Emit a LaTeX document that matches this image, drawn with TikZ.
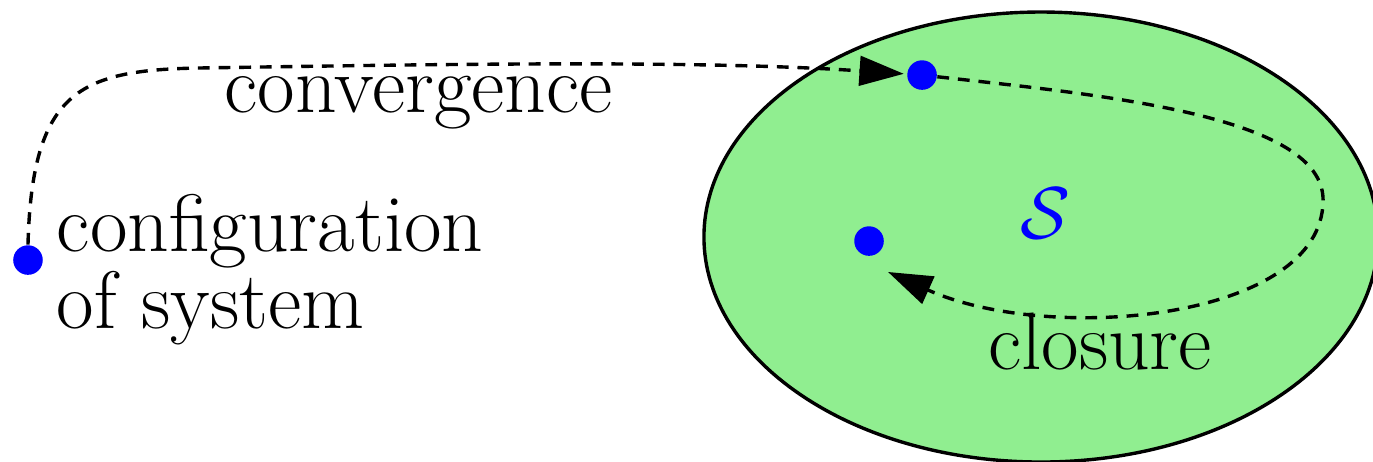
\documentclass[tikz,border=0pt]{standalone}
\usetikzlibrary{arrows.meta,positioning}

\definecolor{setgreen}{HTML}{90EE90}

\tikzset{
  state/.style={circle,fill=blue,inner sep=0pt,minimum size=10pt},
  flow/.style={line width=1.15pt,dash pattern=on 4pt off 3pt,
    -{Triangle[length=15pt,width=10pt]}},
  lbl/.style={font={\fontsize{27.6}{20.6}\selectfont},inner sep=0pt}
}

\begin{document}
\begin{tikzpicture}[line join=round]
  \useasboundingbox (0,0) rectangle (16.335,5.485);
  % the set S
  \draw[line width=1.15pt,fill=setgreen] (12.385,2.665) ellipse (4.01 and 2.677);
  \node[lbl,text=blue] (setS) at (12.433,2.951) {$\mathcal{S}$};

  % configurations
  \node[state] (cfg) at (0.333,2.391) {};
  \node[state] (top) at (10.970,4.592) {};
  \node[state] (mid) at (10.339,2.617) {};
  \coordinate (clend) at (10.565,2.249);

  \node[lbl,anchor=base west,align=left] (cfgtext) at (0.67,1.582) {configuration\\of system};
  \node[lbl,anchor=base] (conv) at (4.979,4.152) {convergence};
  \node[lbl,anchor=base] (clos) at (13.087,1.083) {closure};

  % arrows
  \draw[flow,shorten >=1pt] (cfg.north) .. controls (0.381,4.414) and (0.952,4.652) .. (2.380,4.676)
    .. controls (5.354,4.723) and (8.328,4.771) .. (top);
  \draw[flow] (top) .. controls (13.087,4.355) and (15.741,4.117) .. (15.741,3.105)
    .. controls (15.741,1.678) and (12.493,1.380) .. (clend);
\end{tikzpicture}
\end{document}
